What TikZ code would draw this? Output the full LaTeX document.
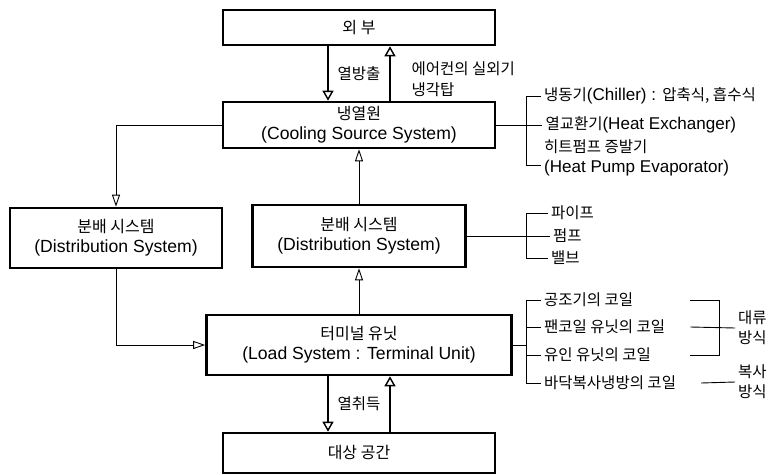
\documentclass[tikz,border=0pt]{standalone}
\usepackage{fontspec}
\setmainfont{Noto Sans CJK KR}
\newfontfamily\latfont[Scale=1.1]{Liberation Sans}
\newcommand{\en}[1]{{\latfont #1}}
\usetikzlibrary{arrows.meta}

\begin{document}
\begin{tikzpicture}[x=1pt,y=-1pt,
  box/.style={draw,line width=2.6pt,align=center,inner sep=0pt,font=\fontsize{16}{20}\selectfont},
  item/.style={anchor=west,align=left,inner sep=3pt,font=\fontsize{15.5}{20}\selectfont},
  heat/.style={-{Triangle[open,length=10pt,width=11pt,line width=1.4pt]},line width=2.4pt},
  link/.style={-{Triangle[open,length=12pt,width=8pt]},line width=0.9pt},
  tie/.style={line width=0.9pt},
  lbl/.style={font=\fontsize{15.5}{21}\selectfont,align=left}]
  \useasboundingbox (0,0) rectangle (771,474);
  \clip (0,0) rectangle (771,474);

  \node[box,minimum width=272,minimum height=35] (ext) at (359,27.5) {외 부};
  \node[box,minimum width=272,minimum height=46] (cool) at (359,125) {냉열원\\\en{(Cooling Source System)}};
  \node[box,minimum width=212,minimum height=60] (distA) at (116,238) {분배 시스템\\\en{(Distribution System)}};
  \node[box,minimum width=213,minimum height=62] (distB) at (359,236) {분배 시스템\\\en{(Distribution System)}};
  \node[box,minimum width=305,minimum height=60] (term) at (359,345) {터미널 유닛\\\en{(Load System : Terminal Unit)}};
  \node[box,minimum width=272,minimum height=40] (room) at (359,453) {대상 공간};

  \path
    ([xshift=-31pt]ext.south) edge[heat] node[lbl,right=5pt] {열방출} ([xshift=-31pt]cool.north)
    ([xshift=31pt]cool.north) edge[heat] node[lbl,right=17pt,yshift=-6pt] {에어컨의 실외기\\냉각탑} ([xshift=31pt]ext.south)
    ([xshift=-31pt]term.south) edge[heat] node[lbl,right=5pt] {열취득} ([xshift=-31pt]room.north)
    ([xshift=31pt]room.north) edge[heat] ([xshift=31pt]term.south);
  \draw[link] (cool.west) -| (distA.north);
  \draw[link] (distB.north) -- (cool.south);
  \draw[link] (term.north) -- (distB.south);
  \draw[link] (distA.south) |- (term.west);

  \node[item] (s1) at (541,96) {냉동기\en{(Chiller) : }압축식, 흡수식};
  \node[item] (s2) at ([xshift=46pt]cool.east) {열교환기\en{(Heat Exchanger)}};
  \node[item] (s3) at (541,158) {히트펌프 증발기\\\en{(Heat Pump Evaporator)}};
  \draw[tie] (cool.east) -- (s2.west);
  \draw[tie] (s1.west) -- ++(-15,0) |- ([yshift=-7pt]s3.west);

  \node[item] (p1) at (548,213) {파이프};
  \node[item] (p2) at ([xshift=83pt]distB.east) {펌프};
  \node[item] (p3) at (548,258) {밸브};
  \draw[tie] (distB.east) -- (p2.west);
  \draw[tie] (p1.west) -- ++(-22,0) |- (p3.west);

  \node[item] (c1) at (541,300) {공조기의 코일};
  \node[item] (c2) at (541,327) {팬코일 유닛의 코일};
  \node[item] (c3) at (541,355) {유인 유닛의 코일};
  \node[item] (c4) at (541,383) {바닥복사냉방의 코일};
  \draw[tie] (term.east) -- ++(14,0);
  \draw[tie] (c1.west) -- ++(-15,0) |- (c4.west);
  \foreach \i in {2,3}
    \draw[tie] (c\i.west) -- ++(-15,0);

  \node[item] (conv) at (735,328) {대류\\방식};
  \node[item] (rad) at (735,382) {복사\\방식};
  \draw[tie] ([xshift=22pt]c1.east -| c2.east) -- ++(29,0) |- ([xshift=22pt]c3.east -| c2.east);
  \draw[tie] ([xshift=22pt]c2.east) -- (conv.west);
  \draw[tie] ([xshift=22pt]c4.east) -- (rad.west);
\end{tikzpicture}
\end{document}
